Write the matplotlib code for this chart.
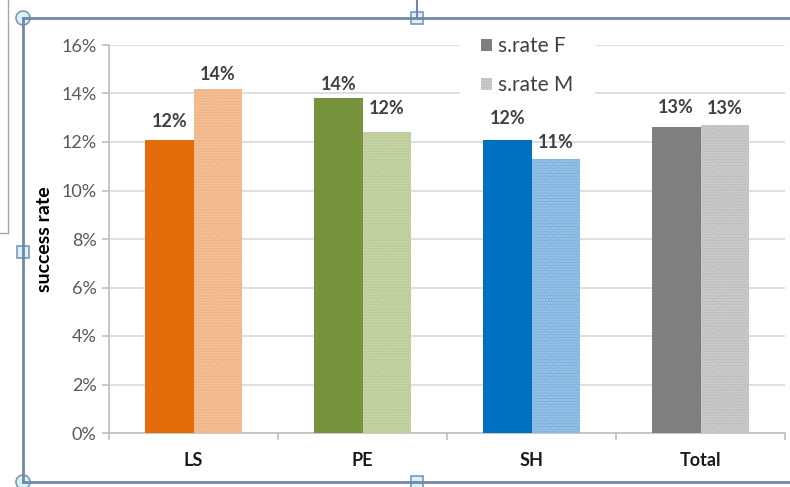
import numpy as np
import matplotlib.pyplot as plt
from matplotlib.patches import Patch, Circle, Rectangle
from matplotlib.lines import Line2D
from matplotlib.transforms import IdentityTransform

plt.rcParams['font.family'] = ['Lato', 'DejaVu Sans']

# success rate per group, female / male
groups = ['LS', 'PE', 'SH', 'Total']
rate_f = [0.121, 0.138, 0.121, 0.126]
rate_m = [0.142, 0.124, 0.113, 0.127]
yticks = [0, 0.02, 0.04, 0.06, 0.08, 0.10, 0.12, 0.14, 0.16]

colors_f = ['#E46C0A', '#77933C', '#0070C0', '#7F7F7F']
colors_m = ['#F2B283', '#BACB95', '#7EB4E0', '#BEBEBE']
hatch_m = ['#F7CBA8', '#CFDBB5', '#A5CBEB', '#D4D4D4']

# extra gap (points) between bar top and its value label
gap_f = [7, 4, 9, 8]
gap_m = [4, 11, 6, 6]

W, H = 790, 487
fig = plt.figure(figsize=(W / 100, H / 100), dpi=100)
ax = fig.add_axes([109 / W, 1 - 433 / H, 676 / W, 388 / H])


def px(x, y):
    return x / W, 1 - y / H


x = np.arange(len(groups))
bw = 0.287
bars_f = ax.bar(x - bw / 2, rate_f, bw, color=colors_f, linewidth=0, zorder=3)
bars_m = ax.bar(x + bw / 2, rate_m, bw, color=colors_m, edgecolor=hatch_m,
                hatch='......', linewidth=0, zorder=3)

for bars, vals, gaps in [(bars_f, rate_f, gap_f), (bars_m, rate_m, gap_m)]:
    for b, v, g in zip(bars, vals, gaps):
        ax.annotate('{:.0%}'.format(v), (b.get_x() + b.get_width() / 2, v),
                    xytext=(0, g), textcoords='offset points', ha='center',
                    va='bottom', fontsize=13, fontweight='bold', color='#404040')

ax.set_xlim(-0.5, len(groups) - 0.5)
ax.set_ylim(0, 0.16)
ax.set_yticks(yticks)
ax.set_yticklabels(['{:.0%}'.format(t) for t in yticks])
ax.yaxis.grid(True, color='#D9D9D9', linewidth=1.2, zorder=0)
ax.set_axisbelow(True)

ax.set_xticks(x)
ax.set_xticklabels(groups, fontsize=13, fontweight='bold', color='#1A1A1A')
ax.tick_params(axis='x', length=0, pad=14)
ax.set_xticks(np.arange(-0.5, len(groups)), minor=True)
ax.tick_params(axis='x', which='minor', length=5, color='#BFBFBF', width=1.2)
ax.tick_params(axis='y', length=5, color='#BFBFBF', width=1.2, labelsize=13,
               labelcolor='#595959', pad=4)

for s in ['top', 'right']:
    ax.spines[s].set_visible(False)
for s in ['left', 'bottom']:
    ax.spines[s].set_color('#BFBFBF')
    ax.spines[s].set_linewidth(1.2)

ax.set_ylabel('success rate', fontsize=14, fontweight='bold', color='black',
              labelpad=6)

# white patch behind the legend, hides the gridlines there
fig.add_artist(Rectangle((460, H - 98), 135, 68, transform=IdentityTransform(),
                         facecolor='white', edgecolor='none', zorder=2))

handles = [Patch(facecolor='#7F7F7F', label='s.rate F'),
           Patch(facecolor='#BEBEBE', edgecolor='#D4D4D4', hatch='......',
                 linewidth=0, label='s.rate M')]
leg = fig.legend(handles=handles, loc='upper left', bbox_to_anchor=px(475, 30),
                 frameon=False, fontsize=15, handlelength=0.5, handleheight=0.5,
                 handletextpad=0.3, labelspacing=0.9, borderpad=0.3,
                 borderaxespad=0)
leg.set_zorder(3)
for t in leg.get_texts():
    t.set_color('#404040')

# selection frame around the chart
frame = '#6F89A8'
fig.add_artist(Line2D(*zip(px(23, 18), px(W, 18)), color=frame, lw=2))
fig.add_artist(Line2D(*zip(px(23, 18), px(23, 482)), color=frame, lw=2))
fig.add_artist(Line2D(*zip(px(23, 482), px(W, 482)), color=frame, lw=2))
fig.add_artist(Line2D(*zip(px(417, 0), px(417, 18)), color=frame, lw=1.5))
fig.add_artist(Line2D(*zip(px(8, 0), px(8, 233)), color='#A6A6A6', lw=1))
fig.add_artist(Line2D(*zip(px(0, 233), px(8, 233)), color='#A6A6A6', lw=1))

for cx, cy in [(23, 18), (23, 482)]:
    fig.add_artist(Circle((cx, H - cy), 7, transform=IdentityTransform(),
                          facecolor='#DDEFF7', edgecolor='#7C9AB6', lw=1.2))
for cx, cy in [(417, 18), (23, 252), (417, 482)]:
    fig.add_artist(Rectangle((cx - 6, H - cy - 6), 12, 12,
                             transform=IdentityTransform(), facecolor='#DDEFF7',
                             edgecolor='#7C9AB6', lw=1.2))

fig.savefig('out.png', dpi=100)
